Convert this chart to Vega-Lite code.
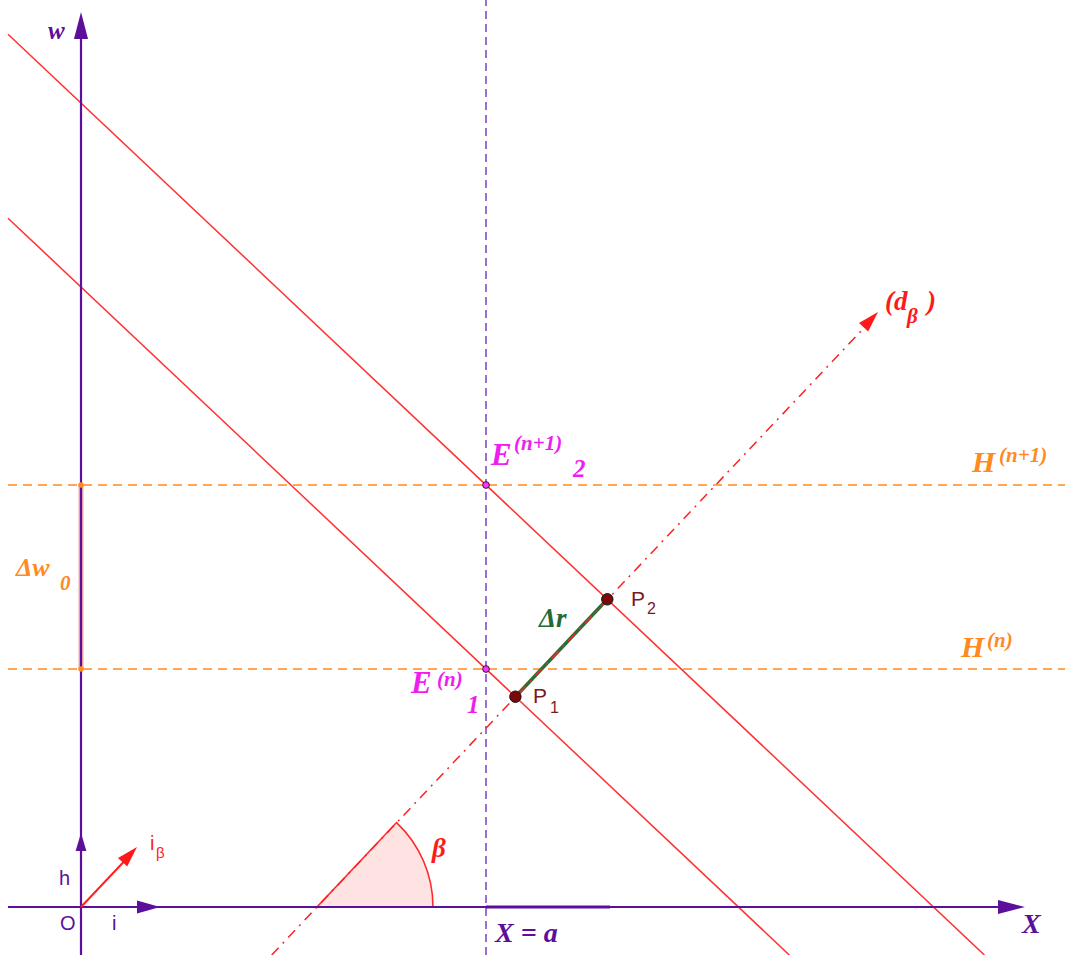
{
  "$schema": "https://vega.github.io/schema/vega-lite/v6.json",
  "width": 1065,
  "height": 955,
  "autosize": {"type": "none"},
  "padding": 0,
  "background": "white",
  "config": {"view": {"stroke": null}},
  "datasets": {
    "hlines": [
      {"id": "Hn", "X": -73, "W": 238}, {"id": "Hn", "X": 984, "W": 238},
      {"id": "Hn1", "X": -73, "W": 422}, {"id": "Hn1", "X": 984, "W": 422}
    ],
    "vline": [{"X": 405, "W": -48}, {"X": 405, "W": 907}],
    "redlines": [
      {"id": "A", "X": -73, "W": 872.8}, {"id": "A", "X": 903.4, "W": -48},
      {"id": "B", "X": -73, "W": 688.8}, {"id": "B", "X": 708.3, "W": -48}
    ],
    "dbeta": [{"X": 190.7, "W": -48}, {"X": 781, "W": 577}],
    "dr": [{"X": 434.4, "W": 210.3}, {"X": 526.3, "W": 307.7}],
    "dw0": [{"X": 0, "W": 238}, {"X": 0, "W": 422}],
    "xaxis": [{"X": -73, "W": 0}, {"X": 920, "W": 0}],
    "xseg": [{"X": 405, "W": 0}, {"X": 529, "W": 0}],
    "waxis": [{"X": 0, "W": -48}, {"X": 0, "W": 870}],
    "ibeta": [{"X": 0, "W": 0}, {"X": 52, "W": 55}],
    "sector": [{"X": 236, "W": 0}]
  },
  "encoding": {
    "x": {"field": "X", "type": "quantitative", "scale": {"domain": [-81, 984], "nice": false, "zero": false}, "axis": null},
    "y": {"field": "W", "type": "quantitative", "scale": {"domain": [-48, 907], "nice": false, "zero": false}, "axis": null}
  },
  "layer": [
    {
      "data": {"name": "sector"},
      "mark": {"type": "arc", "theta": 0.7557, "theta2": 1.5708, "innerRadius": 0, "outerRadius": 116, "fill": "#ff0000", "fillOpacity": 0.11, "stroke": "#ff2a2a", "strokeWidth": 1.6}
    },
    {
      "data": {"name": "hlines"},
      "mark": {"type": "line", "color": "#ff8a1f", "strokeWidth": 1.6, "strokeDash": [9, 6]},
      "encoding": {"detail": {"field": "id"}}
    },
    {
      "data": {"name": "vline"},
      "mark": {"type": "line", "color": "#7b3fc4", "strokeWidth": 1.5, "strokeDash": [8, 5]},
      "encoding": {}
    },
    {
      "data": {"name": "redlines"},
      "mark": {"type": "line", "color": "#ff3030", "strokeWidth": 1.5},
      "encoding": {"detail": {"field": "id"}}
    },
    {
      "data": {"name": "dr"},
      "mark": {"type": "line", "color": "#2a6e38", "strokeWidth": 3.5},
      "encoding": {}
    },
    {
      "data": {"name": "dbeta"},
      "mark": {"type": "line", "color": "#ff2020", "strokeWidth": 1.5, "strokeDash": [10, 6, 2, 6]},
      "encoding": {}
    },
    {
      "data": {"name": "dw0"},
      "mark": {"type": "line", "color": "#f08a80", "strokeWidth": 5, "opacity": 0.7},
      "encoding": {}
    },
    {
      "data": {"name": "xaxis"},
      "mark": {"type": "line", "color": "#5b0f9b", "strokeWidth": 2.2},
      "encoding": {}
    },
    {
      "data": {"name": "xseg"},
      "mark": {"type": "line", "color": "#5b0f9b", "strokeWidth": 3},
      "encoding": {}
    },
    {
      "data": {"name": "waxis"},
      "mark": {"type": "line", "color": "#5b0f9b", "strokeWidth": 2.2},
      "encoding": {}
    },
    {
      "data": {"name": "ibeta"},
      "mark": {"type": "line", "color": "#ff2020", "strokeWidth": 2},
      "encoding": {}
    },
    {
      "data": {"values": [{"X": 0, "W": 895}]},
      "mark": {"type": "point", "shape": "M0,0L-0.26,1L0.26,1Z", "size": 2916, "filled": true, "color": "#5b0f9b", "opacity": 1, "angle": 0}
    },
    {
      "data": {"values": [{"X": 0, "W": 74}]},
      "mark": {"type": "point", "shape": "M0,0L-0.3,1L0.3,1Z", "size": 1296, "filled": true, "color": "#5b0f9b", "opacity": 1, "angle": 0}
    },
    {
      "data": {"values": [{"X": 944, "W": 0}]},
      "mark": {"type": "point", "shape": "M0,0L-0.26,1L0.26,1Z", "size": 2916, "filled": true, "color": "#5b0f9b", "opacity": 1, "angle": 90}
    },
    {
      "data": {"values": [{"X": 79, "W": 0}]},
      "mark": {"type": "point", "shape": "M0,0L-0.28,1L0.28,1Z", "size": 2116, "filled": true, "color": "#5b0f9b", "opacity": 1, "angle": 90}
    },
    {
      "data": {"values": [{"X": 56, "W": 60}, {"X": 797, "W": 595}]},
      "mark": {"type": "point", "shape": "M0,0L-0.3,1L0.3,1Z", "size": 1764, "filled": true, "color": "#ff1a1a", "opacity": 1, "angle": 43.3}
    },
    {
      "data": {"values": [{"X": 0, "W": 238}, {"X": 0, "W": 422}]},
      "mark": {"type": "point", "shape": "circle", "size": 30, "filled": true, "color": "#ff8a1f", "opacity": 1}
    },
    {
      "data": {"values": [{"X": 405, "W": 238}, {"X": 405, "W": 422}]},
      "mark": {"type": "point", "shape": "circle", "size": 45, "filled": true, "fill": "#ff33ff", "stroke": "#222222", "strokeWidth": 1, "opacity": 1}
    },
    {
      "data": {"values": [{"X": 434.4, "W": 210.3}, {"X": 526.3, "W": 307.7}]},
      "mark": {"type": "point", "shape": "circle", "size": 130, "filled": true, "fill": "#7a0a0a", "stroke": "#111111", "strokeWidth": 1, "opacity": 1}
    },
    {
      "data": {"values": [{"t": "X", "X": 941, "W": -26}, {"t": "X = a", "X": 414, "W": -35}]},
      "mark": {"type": "text", "align": "left", "baseline": "alphabetic", "font": "Liberation Serif", "fontStyle": "italic", "fontWeight": "bold", "fontSize": 28, "color": "#5b0f9b"},
      "encoding": {"text": {"field": "t"}}
    },
    {
      "data": {"values": [{"t": "w", "X": -33, "W": 868}]},
      "mark": {"type": "text", "align": "left", "baseline": "alphabetic", "font": "Liberation Serif", "fontStyle": "italic", "fontWeight": "bold", "fontSize": 25, "color": "#5b0f9b"},
      "encoding": {"text": {"field": "t"}}
    },
    {
      "data": {"values": [{"t": "O", "X": -21, "W": -23}, {"t": "h", "X": -22, "W": 22}, {"t": "i", "X": 31, "W": -23}]},
      "mark": {"type": "text", "align": "left", "baseline": "alphabetic", "font": "Liberation Sans", "fontSize": 20, "color": "#5b0f9b"},
      "encoding": {"text": {"field": "t"}}
    },
    {
      "data": {"values": [{"t": "i", "X": 69, "W": 57}]},
      "mark": {"type": "text", "align": "left", "baseline": "alphabetic", "font": "Liberation Sans", "fontSize": 20, "color": "#ff2020"},
      "encoding": {"text": {"field": "t"}}
    },
    {
      "data": {"values": [{"t": "β", "X": 75, "W": 49}]},
      "mark": {"type": "text", "align": "left", "baseline": "alphabetic", "font": "Liberation Sans", "fontSize": 15, "color": "#ff2020"},
      "encoding": {"text": {"field": "t"}}
    },
    {
      "data": {"values": [{"t": "β", "X": 351, "W": 50}, {"t": "(d", "X": 804, "W": 597}, {"t": ")", "X": 846, "W": 597}]},
      "mark": {"type": "text", "align": "left", "baseline": "alphabetic", "font": "Liberation Serif", "fontStyle": "italic", "fontWeight": "bold", "fontSize": 27, "color": "#ff1a1a"},
      "encoding": {"text": {"field": "t"}}
    },
    {
      "data": {"values": [{"t": "β", "X": 826, "W": 584}]},
      "mark": {"type": "text", "align": "left", "baseline": "alphabetic", "font": "Liberation Serif", "fontStyle": "italic", "fontWeight": "bold", "fontSize": 21, "color": "#ff1a1a"},
      "encoding": {"text": {"field": "t"}}
    },
    {
      "data": {"values": [{"t": "E", "X": 410, "W": 442}, {"t": "E", "X": 330, "W": 214}]},
      "mark": {"type": "text", "align": "left", "baseline": "alphabetic", "font": "Liberation Serif", "fontStyle": "italic", "fontWeight": "bold", "fontSize": 31, "color": "#ee1fee"},
      "encoding": {"text": {"field": "t"}}
    },
    {
      "data": {"values": [{"t": "(n+1)", "X": 433, "W": 457}, {"t": "(n)", "X": 356, "W": 221}]},
      "mark": {"type": "text", "align": "left", "baseline": "alphabetic", "font": "Liberation Serif", "fontStyle": "italic", "fontWeight": "bold", "fontSize": 21, "color": "#ee1fee"},
      "encoding": {"text": {"field": "t"}}
    },
    {
      "data": {"values": [{"t": "2", "X": 492, "W": 430}, {"t": "1", "X": 386, "W": 194}]},
      "mark": {"type": "text", "align": "left", "baseline": "alphabetic", "font": "Liberation Serif", "fontStyle": "italic", "fontWeight": "bold", "fontSize": 25, "color": "#ee1fee"},
      "encoding": {"text": {"field": "t"}}
    },
    {
      "data": {"values": [{"t": "P", "X": 452, "W": 204}, {"t": "P", "X": 550, "W": 301}]},
      "mark": {"type": "text", "align": "left", "baseline": "alphabetic", "font": "Liberation Sans", "fontSize": 21, "color": "#7a1a1a"},
      "encoding": {"text": {"field": "t"}}
    },
    {
      "data": {"values": [{"t": "1", "X": 469, "W": 194}, {"t": "2", "X": 566, "W": 293}]},
      "mark": {"type": "text", "align": "left", "baseline": "alphabetic", "font": "Liberation Sans", "fontSize": 16, "color": "#7a1a1a"},
      "encoding": {"text": {"field": "t"}}
    },
    {
      "data": {"values": [{"t": "Δr", "X": 458, "W": 280}]},
      "mark": {"type": "text", "align": "left", "baseline": "alphabetic", "font": "Liberation Serif", "fontStyle": "italic", "fontWeight": "bold", "fontSize": 27, "color": "#236b34"},
      "encoding": {"text": {"field": "t"}}
    },
    {
      "data": {"values": [{"t": "Δw", "X": -65, "W": 331}]},
      "mark": {"type": "text", "align": "left", "baseline": "alphabetic", "font": "Liberation Serif", "fontStyle": "italic", "fontWeight": "bold", "fontSize": 26, "color": "#ff8a1f"},
      "encoding": {"text": {"field": "t"}}
    },
    {
      "data": {"values": [{"t": "H", "X": 891, "W": 435}, {"t": "H", "X": 880, "W": 250}]},
      "mark": {"type": "text", "align": "left", "baseline": "alphabetic", "font": "Liberation Serif", "fontStyle": "italic", "fontWeight": "bold", "fontSize": 30, "color": "#ff8a1f"},
      "encoding": {"text": {"field": "t"}}
    },
    {
      "data": {"values": [{"t": "(n+1)", "X": 918, "W": 445}, {"t": "(n)", "X": 906, "W": 260}, {"t": "0", "X": -21, "W": 317}]},
      "mark": {"type": "text", "align": "left", "baseline": "alphabetic", "font": "Liberation Serif", "fontStyle": "italic", "fontWeight": "bold", "fontSize": 21, "color": "#ff8a1f"},
      "encoding": {"text": {"field": "t"}}
    }
  ]
}
